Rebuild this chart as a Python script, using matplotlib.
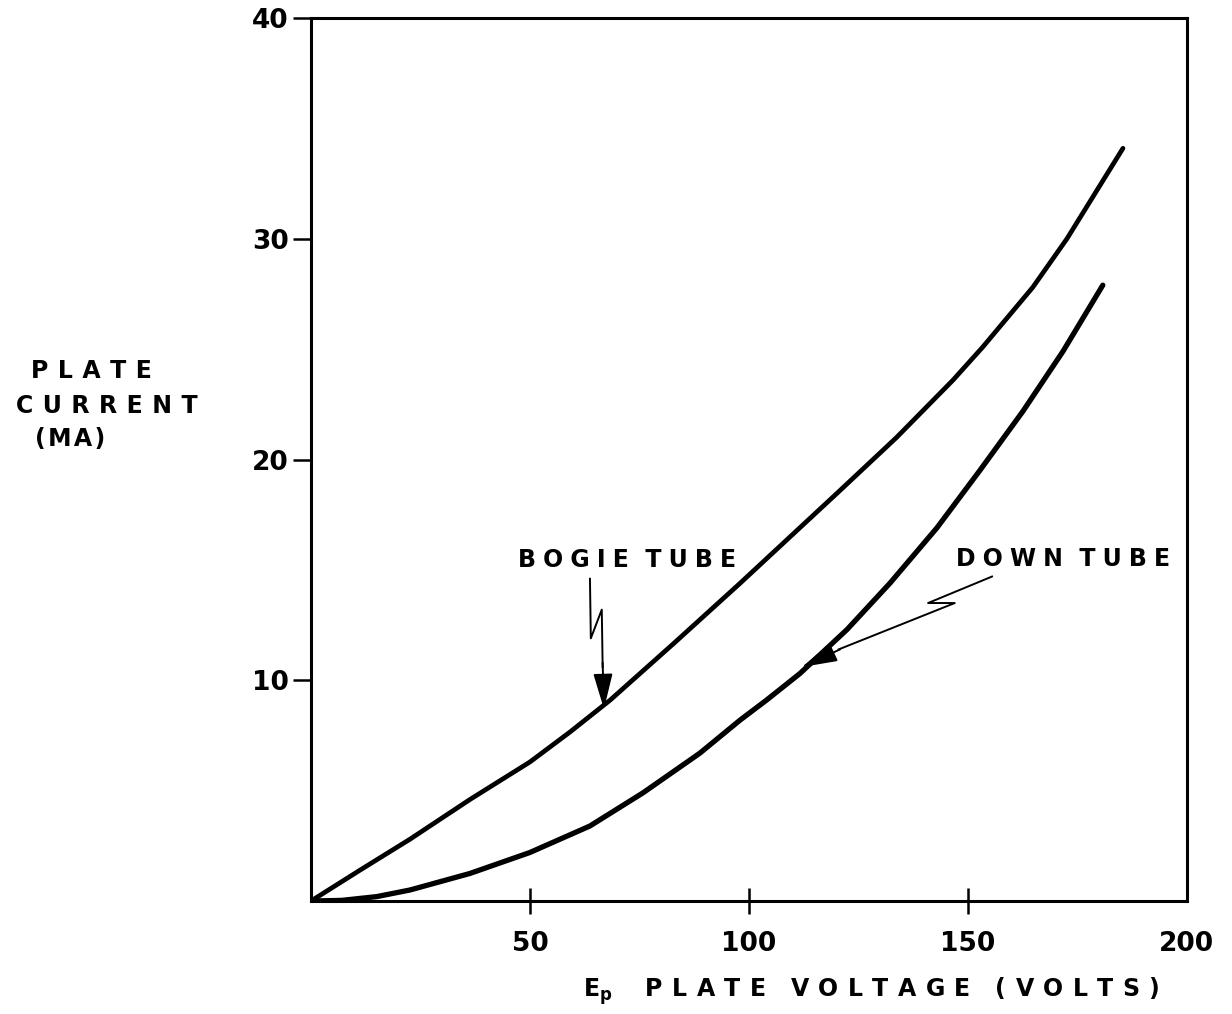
import matplotlib
matplotlib.use("Agg")
import matplotlib.pyplot as plt

# (plate voltage V, plate current mA)
bogie_v = [0, 11.2, 22.6, 36.3, 50, 59.1, 68.3, 83, 98, 109.4, 120.8, 133.7,
           146.6, 153.4, 164.8, 172.6, 185.4]
bogie_ma = [0, 1.4, 2.8, 4.6, 6.3, 7.65, 9.1, 11.7, 14.4, 16.5, 18.6, 21.0,
            23.6, 25.1, 27.8, 30.0, 34.1]

down_v = [0, 7, 15, 22.6, 36.3, 50, 63.7, 75.8, 88.8, 98, 104, 111.6, 122.4,
          132.2, 142.9, 152.7, 162.6, 171.7, 180.8]
down_ma = [0, 0.03, 0.2, 0.5, 1.25, 2.2, 3.4, 4.9, 6.7, 8.2, 9.1, 10.3, 12.3,
           14.4, 16.9, 19.5, 22.2, 24.9, 27.9]

xticks = [50, 100, 150, 200]
yticks = [10, 20, 30, 40]

THIN = "\u2009"
HAIR = "\u200a"


def spaced(s, gap=THIN):
    # hand lettering is wide, pad the letters
    return gap.join(s)


plt.rcParams["font.family"] = "DejaVu Sans"
plt.rcParams["font.weight"] = "bold"

fig = plt.figure(figsize=(12.32, 10.14), dpi=100)
ax = fig.add_axes([0.2524, 0.1114, 0.711, 0.8708])

ax.plot(bogie_v, bogie_ma, color="black", lw=3.4, solid_capstyle="round",
        solid_joinstyle="round")
ax.plot(down_v, down_ma, color="black", lw=3.8, solid_capstyle="round",
        solid_joinstyle="round")

ax.set_xlim(0, 200)
ax.set_ylim(0, 40)
for sp in ax.spines.values():
    sp.set_linewidth(2.2)

ax.set_xticks(xticks)
ax.set_xticklabels([str(t) for t in xticks], fontsize=19, fontweight="bold")
ax.tick_params(axis="x", direction="inout", length=19, width=1.8, pad=12)
ax.xaxis.get_major_ticks()[-1].tick1line.set_visible(False)

ax.set_yticks(yticks)
ax.set_yticklabels([str(t) for t in yticks], fontsize=19, fontweight="bold")
ax.tick_params(axis="y", direction="out", length=13, width=1.8, pad=3)

# y axis title, three hand-lettered lines
ygap = THIN + THIN
fig.text(91 / 1232, 1 - 371 / 1014, spaced("PLATE", ygap), ha="center",
         va="center", fontsize=17)
fig.text(107 / 1232, 1 - 406 / 1014, spaced("CURRENT", ygap), ha="center",
         va="center", fontsize=17)
fig.text(70 / 1232, 1 - 439 / 1014, spaced("(MA)", HAIR), ha="center",
         va="center", fontsize=17)

# x axis title
xgap = THIN + THIN
fig.text(871 / 1232, 1 - 991 / 1014,
         r"E$_{\mathbf{p}}$" + "    " + spaced("PLATE", xgap) + "   "
         + spaced("VOLTAGE", xgap) + "   " + spaced("(VOLTS)", xgap),
         ha="center", va="center", fontsize=17)

# curve labels with zigzag leaders
lgap = THIN + HAIR
head = "-|>,head_length=2.2,head_width=0.6"
ax.text(72.1, 15.45, spaced("BOGIE", lgap) + "  " + spaced("TUBE", lgap),
        fontsize=17, ha="center", va="center")
ax.plot([63.7, 63.9, 66.4, 66.6], [14.6, 11.9, 13.2, 10.6], color="black", lw=1.4)
ax.annotate("", xy=(66.9, 8.7), xytext=(66.6, 10.8),
            arrowprops=dict(arrowstyle=head, color="black", lw=1.4,
                            shrinkA=0, shrinkB=0))

ax.text(171.7, 15.5, spaced("DOWN", lgap) + "  " + spaced("TUBE", lgap),
        fontsize=17, ha="center", va="center")
ax.plot([155.5, 140.9, 147.0, 120.5], [14.7, 13.5, 13.5, 11.4], color="black", lw=1.4)
ax.annotate("", xy=(112.1, 10.6), xytext=(120.8, 11.4),
            arrowprops=dict(arrowstyle=head, color="black", lw=1.4,
                            shrinkA=0, shrinkB=0))

fig.savefig("out.png", dpi=100)
